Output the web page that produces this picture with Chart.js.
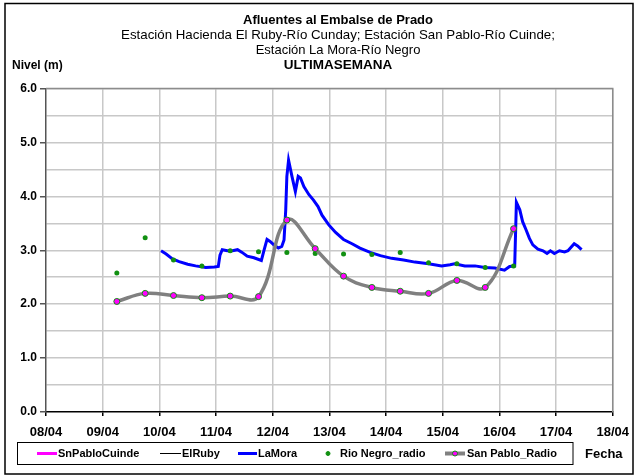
<!DOCTYPE html>
<html>
<head>
<meta charset="utf-8">
<script src="https://cdn.jsdelivr.net/npm/chart.js@4/dist/chart.umd.min.js"></script>
<style>
  html, body { margin: 0; padding: 0; background: #fff; }
  #wrap { width: 638px; height: 476px; }
</style>
</head>
<body>
<div id="wrap"><canvas id="chart" width="638" height="476"></canvas></div>
<script>
// dias del eje x (0 = 08/04)
const dayLabels = ["08/04", "09/04", "10/04", "11/04", "12/04", "13/04",
                   "14/04", "15/04", "16/04", "17/04", "18/04"];

// lecturas por radio, 6am y 6pm
const radioTimes = [1.25, 1.75, 2.25, 2.75, 3.25, 3.75, 4.25, 4.75,
                    5.25, 5.75, 6.25, 6.75, 7.25, 7.75, 8.25];
const sanPabloRadio = [2.05, 2.20, 2.16, 2.12, 2.15, 2.14, 3.56, 3.03,
                       2.52, 2.31, 2.24, 2.20, 2.44, 2.31, 3.40];
const rioNegroRadio = [2.58, 3.23, 2.82, 2.71, 2.99, 2.97, 2.96, 2.94,
                       2.93, 2.92, 2.96, 2.77, 2.75, 2.68, 2.71];

// estacion La Mora
const laMoraTimes = [2.03, 2.12, 2.23, 2.35, 2.50, 2.64, 2.82, 2.97, 3.04, 3.07,
                     3.11, 3.20, 3.29, 3.38, 3.46, 3.55, 3.67, 3.80, 3.85, 3.90,
                     3.96, 4.02, 4.10, 4.16, 4.20, 4.23, 4.25, 4.28, 4.34, 4.40,
                     4.45, 4.49, 4.55, 4.64, 4.72, 4.80, 4.87, 4.99, 5.11, 5.25,
                     5.40, 5.54, 5.72, 5.90, 6.10, 6.31, 6.51, 6.75, 6.98, 7.13,
                     7.21, 7.39, 7.57, 7.74, 7.92, 8.09, 8.18, 8.27, 8.30, 8.36,
                     8.41, 8.47, 8.53, 8.59, 8.68, 8.77, 8.84, 8.90, 8.97, 9.06,
                     9.15, 9.21, 9.32, 9.38, 9.45];
const laMoraLevel = [2.99, 2.93, 2.84, 2.79, 2.74, 2.71, 2.68, 2.69, 2.70, 2.91,
                     3.01, 2.99, 2.99, 3.01, 2.96, 2.89, 2.86, 2.81, 3.01, 3.20,
                     3.16, 3.10, 3.04, 3.07, 3.19, 3.75, 4.37, 4.67, 4.37, 4.09,
                     4.37, 4.34, 4.18, 4.03, 3.93, 3.81, 3.65, 3.47, 3.33, 3.20,
                     3.12, 3.04, 2.96, 2.90, 2.85, 2.82, 2.78, 2.75, 2.71, 2.73,
                     2.75, 2.71, 2.71, 2.68, 2.67, 2.63, 2.70, 2.71, 3.89, 3.75,
                     3.53, 3.38, 3.22, 3.10, 3.02, 2.99, 2.94, 2.99, 2.94, 2.99,
                     2.97, 2.99, 3.12, 3.08, 3.01];

const titleLines = [
  { text: "Afluentes al Embalse de Prado", bold: true },
  { text: "Estación Hacienda El Ruby-Río Cunday; Estación San Pablo-Río Cuinde;", bold: false },
  { text: "Estación La Mora-Río Negro", bold: false },
  { text: "ULTIMASEMANA", bold: true }
];

const FONT = '"Liberation Sans", Arial, sans-serif';

function pairs(xs, ys) {
  return xs.map((x, i) => ({ x: x, y: ys[i] }));
}

// titulo, marco, legenda y rotulos de ejes
const decorations = {
  id: "decorations",
  afterDraw(chart) {
    const c = chart.ctx;
    c.save();

    // marco exterior
    c.strokeStyle = "#000";
    c.lineWidth = 1.5;
    c.strokeRect(5, 3.5, 628, 470.5);

    // titulo
    c.fillStyle = "#000";
    c.textAlign = "center";
    c.textBaseline = "middle";
    const ys = [20, 35, 50, 65];
    const sizes = [13, 13.3, 13, 13.5];
    titleLines.forEach((l, i) => {
      c.font = (l.bold ? "bold " : "") + sizes[i] + "px " + FONT;
      c.fillText(l.text, 338, ys[i]);
    });

    c.font = "bold 12px " + FONT;
    c.textAlign = "left";
    c.fillText("Nivel (m)", 12, 66);
    c.font = "bold 13px " + FONT;
    c.fillText("Fecha", 585, 454);

    // caja de leyenda
    c.strokeStyle = "#000";
    c.lineWidth = 1;
    c.strokeRect(17.5, 442.5, 555.5, 22);

    const ly = 453.5;
    const slots = [
      { x1: 37, x2: 57, tx: 58 },
      { x1: 160, x2: 181, tx: 182 },
      { x1: 238, x2: 257, tx: 258 },
      { x1: 328, x2: 328, tx: 340 },
      { x1: 445, x2: 465, tx: 467 }
    ];
    c.font = "bold 11px " + FONT;
    chart.data.datasets.forEach((ds, i) => {
      const s = slots[i];
      if (ds.showLine !== false) {
        c.strokeStyle = ds.borderColor;
        c.lineWidth = ds.legendWidth;
        c.beginPath();
        c.moveTo(s.x1, ly);
        c.lineTo(s.x2, ly);
        c.stroke();
      }
      if (ds.pointRadius > 0) {
        c.beginPath();
        c.arc((s.x1 + s.x2) / 2, ly, ds.pointRadius - 0.5, 0, Math.PI * 2);
        c.fillStyle = ds.pointBackgroundColor;
        c.fill();
        c.lineWidth = 1;
        c.strokeStyle = ds.pointBorderColor;
        c.stroke();
      }
      c.fillStyle = "#000";
      c.textAlign = "left";
      c.fillText(ds.label, s.tx, ly + 0.5);
    });

    // borde superior y derecho del area
    const a = chart.chartArea;
    c.strokeStyle = "#8c8c8c";
    c.lineWidth = 1.5;
    c.beginPath();
    c.moveTo(a.left, a.top);
    c.lineTo(a.right, a.top);
    c.lineTo(a.right, a.bottom);
    c.stroke();
    c.restore();
  }
};

new Chart(document.getElementById("chart").getContext("2d"), {
  type: "line",
  data: {
    datasets: [
      {
        label: "SnPabloCuinde",
        data: [],
        borderColor: "#ff00ff",
        legendWidth: 3,
        borderWidth: 3,
        pointRadius: 0,
        order: 5
      },
      {
        label: "ElRuby",
        data: [],
        borderColor: "#000000",
        legendWidth: 1,
        borderWidth: 1,
        pointRadius: 0,
        order: 4
      },
      {
        label: "LaMora",
        data: pairs(laMoraTimes, laMoraLevel),
        borderColor: "#0000ff",
        legendWidth: 3,
        borderWidth: 3,
        pointRadius: 0,
        tension: 0,
        order: 3
      },
      {
        label: "Rio Negro_radio",
        data: pairs(radioTimes, rioNegroRadio),
        showLine: false,
        borderColor: "#119011",
        pointBackgroundColor: "#119011",
        pointBorderColor: "#119011",
        pointRadius: 2.5,
        pointBorderWidth: 0,
        order: 2
      },
      {
        label: "San Pablo_Radio",
        data: pairs(radioTimes, sanPabloRadio),
        borderColor: "#808080",
        legendWidth: 4,
        borderWidth: 3.5,
        tension: 0.4,
        pointRadius: 3,
        pointBackgroundColor: "#ff00ff",
        pointBorderColor: "#119011",
        pointBorderWidth: 1,
        order: 1
      }
    ]
  },
  options: {
    responsive: false,
    animation: false,
    events: [],
    layout: { padding: { top: 88.5, right: 23, bottom: 0, left: 0 } },
    plugins: {
      legend: { display: false },
      title: { display: false },
      tooltip: { enabled: false }
    },
    scales: {
      x: {
        type: "linear",
        min: 0,
        max: 10,
        afterFit: (s) => { s.height = 64; },
        ticks: {
          stepSize: 1,
          color: "#000",
          padding: 9,
          font: { family: FONT, size: 13, weight: "bold" },
          callback: (v) => dayLabels[v]
        },
        grid: {
          color: (ctx) => ctx.index === 0 ? "transparent" : "#c8c8c8",
          lineWidth: 1.5,
          tickLength: 4,
          tickColor: "#000"
        },
        border: { color: "#000", width: 1.5 }
      },
      y: {
        min: 0,
        max: 6,
        afterFit: (s) => { s.width = 46; },
        ticks: {
          stepSize: 0.5,
          color: "#000",
          padding: 3,
          font: { family: FONT, size: 12, weight: "bold" },
          callback: (v) => (v % 1 === 0 ? v.toFixed(1) : "")
        },
        grid: {
          color: (ctx) => ctx.index === 0 ? "transparent" : "#c8c8c8",
          lineWidth: 1.5,
          tickLength: 6,
          tickColor: (ctx) => (ctx.tick && ctx.tick.value % 1 === 0 ? "#555" : "transparent")
        },
        border: { color: "#555", width: 1.5 }
      }
    }
  },
  plugins: [decorations]
});
</script>
</body>
</html>
